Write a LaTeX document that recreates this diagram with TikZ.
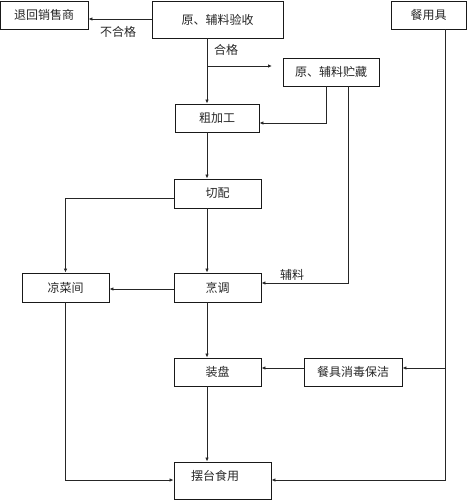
\documentclass[tikz,border=0pt]{standalone}
\usepackage{fontspec}
\newfontfamily\cjk{Noto Sans CJK SC}
\usetikzlibrary{arrows.meta}
\begin{document}
\begin{tikzpicture}[x=1pt,y=-1pt,
  box/.style={draw=black!90,line width=0.9pt,rectangle,inner sep=0pt,font=\cjk\fontsize{12}{14}\selectfont,text=black!85},
  lbl/.style={inner sep=0pt,font=\cjk\fontsize{12}{14}\selectfont,text=black!85},
  conn/.style={draw=black!85,line width=0.8pt},
  arr/.style={conn,-{Latex[length=4pt,width=3.5pt]}}]
\useasboundingbox (0,0) rectangle (468,500);
% nodes
\node[box,minimum width=88pt,minimum height=28pt] (ret) at (44,15) {退回销售商};
\node[box,minimum width=131pt,minimum height=37pt] (acc) at (217.5,19.5) {原、辅料验收};
\node[box,minimum width=75pt,minimum height=28pt] (ware) at (428.5,15) {餐用具};
\node[box,minimum width=96pt,minimum height=28pt] (store) at (331,72) {原、辅料贮藏};
\node[box,minimum width=84pt,minimum height=28pt] (rough) at (217,118) {粗加工};
\node[box,minimum width=87pt,minimum height=29pt] (cut) at (217.5,193.5) {切配};
\node[box,minimum width=87pt,minimum height=29pt] (cold) at (65.5,287.5) {凉菜间};
\node[box,minimum width=87pt,minimum height=29pt] (cook) at (217.5,287.5) {烹调};
\node[box,minimum width=87pt,minimum height=28pt] (plate) at (217.5,372) {装盘};
\node[box,minimum width=98pt,minimum height=28pt] (dis) at (353,372) {餐具消毒保洁};
\node[box,minimum width=97pt,minimum height=37pt] (serve) at (222.5,480.5) {};
\node[lbl] (servetext) at (215,476) {摆台食用};
% labels
\node[lbl] (lno) at (118,32) {不合格};
\node[lbl] (lok) at (226,50) {合格};
\node[lbl] (laux) at (292,275) {辅料};
% helper coordinates
\coordinate (col) at (207,0);
\coordinate (br) at (207,66);
\coordinate (brend) at (272,66);
% connectors
\draw[arr] (acc.west |- 0,19) -- (ret.east |- 0,19);
\draw[arr] (acc.south -| col) -- (rough.north -| col);
\draw[arr] (br) -- (brend);
\draw[arr] (store.south -| 326,0) |- (rough.east |- 0,123);
\draw[arr] (rough.south -| col) -- (cut.north -| col);
\draw[arr] (cut.west |- 0,198) -| (cold.north);
\draw[arr] (cut.south -| col) -- (cook.north -| col);
\draw[arr] (store.south -| 348,0) |- (cook.east |- 0,283);
\draw[arr] (cook.west |- 0,289) -- (cold.east |- 0,289);
\draw[arr] (cook.south -| col) -- (plate.north -| col);
\draw[arr] (dis.west |- 0,368) -- (plate.east |- 0,368);
\draw[arr] (plate.south -| col) -- (serve.north -| col);
\draw[arr] (cold.south) |- (serve.west |- 0,480);
\draw[arr] (ware.south -| 445,0) |- (serve.east |- 0,480);
\draw[arr] (445,368) -- (dis.east |- 0,368);
\end{tikzpicture}
\end{document}
